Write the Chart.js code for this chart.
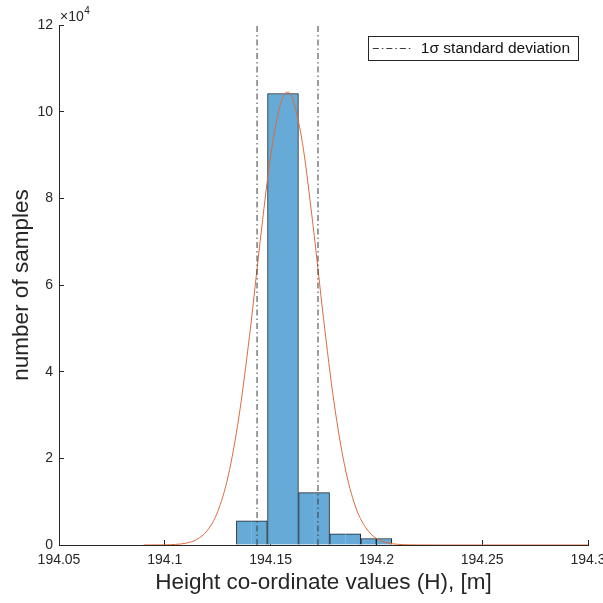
<!DOCTYPE html>
<html lang="en">
<head>
<meta charset="UTF-8">
<title>Height co-ordinate histogram</title>
<script src="https://cdn.jsdelivr.net/npm/chart.js"></script>
<style>
  html, body { margin: 0; padding: 0; background: #fff; }
  #wrap { width: 603px; height: 603px; position: relative; }
</style>
</head>
<body>
<div id="wrap"><canvas id="histChart"></canvas></div>
<script>
// histogram, stored as half-bins (centre in m, count) so the split in the last bin shows
const binCentres = [194.1375, 194.1448, 194.1522, 194.1595, 194.1669, 194.1742, 194.1816, 194.1889, 194.1963, 194.2036];
const binCounts  = [5600, 5600, 104200, 104200, 12100, 12100, 2600, 2600, 1500, 1500];

// fitted normal curve
const curveX = [194.09, 194.10, 194.105, 194.11, 194.115, 194.12, 194.125, 194.13, 194.135, 194.14, 194.145,
                194.15, 194.155, 194.158, 194.16, 194.165, 194.17, 194.175, 194.18, 194.185, 194.19,
                194.195, 194.20, 194.205, 194.21, 194.215, 194.22, 194.23, 194.30];
const curveY = [0, 30, 130, 420, 1250, 3300, 7700, 16000, 29500, 48100, 69800,
                89700, 102300, 104500, 103500, 92900, 74000, 52300, 32800, 18300, 9000,
                4000, 1500, 530, 160, 40, 10, 0, 0];

// +/- 1 sigma markers
const sigmaX = [194.1436, 194.1724];
const sigmaLabel = '1σ standard deviation';

const xTicks = [194.05, 194.1, 194.15, 194.2, 194.25, 194.3];
const yTicks = [0, 2, 4, 6, 8, 10, 12];   // x 10^4
const yScaleExp = 4;

const axisColor = '#262626';
const fontFam = '"Liberation Sans", Arial, Helvetica, sans-serif';

// MATLAB-style boxed legend inside the top right of the plot
const boxLegend = {
  id: 'boxLegend',
  afterDraw(chart) {
    const ctx = chart.ctx;
    const area = chart.chartArea;
    const ds = chart.data.datasets[0];
    ctx.save();
    ctx.font = '15.5px ' + fontFam;
    const tw = ctx.measureText(ds.label).width;
    const h = 24, lineLen = 40;
    const w = 5 + lineLen + 8 + tw + 8;
    const x = area.right - 10 - w;
    const y = area.top + 11;
    ctx.fillStyle = '#fff';
    ctx.fillRect(x, y, w, h);
    ctx.strokeStyle = axisColor;
    ctx.lineWidth = 1;
    ctx.strokeRect(Math.round(x) + 0.5, Math.round(y) + 0.5, Math.round(w), h);
    ctx.beginPath();
    ctx.setLineDash(ds.borderDash);
    ctx.strokeStyle = ds.borderColor;
    ctx.moveTo(x + 5, y + h / 2 + 0.5);
    ctx.lineTo(x + 5 + lineLen, y + h / 2 + 0.5);
    ctx.stroke();
    ctx.setLineDash([]);
    ctx.fillStyle = '#111';
    ctx.textBaseline = 'middle';
    ctx.fillText(ds.label, x + 5 + lineLen + 8, y + h / 2 + 1);
    ctx.restore();
  }
};

// the "x10^4" multiplier above the y axis
const exponentLabel = {
  id: 'exponentLabel',
  afterDraw(chart) {
    const ctx = chart.ctx;
    const area = chart.chartArea;
    ctx.save();
    ctx.fillStyle = axisColor;
    ctx.textBaseline = 'alphabetic';
    ctx.font = '14px ' + fontFam;
    const base = '×10';
    ctx.fillText(base, area.left + 1, area.top - 4);
    const bw = ctx.measureText(base).width;
    ctx.font = '10px ' + fontFam;
    ctx.fillText(String(yScaleExp), area.left + 1 + bw + 0.5, area.top - 11);
    ctx.restore();
  }
};

const sigmaStyle = {
  type: 'line',
  label: sigmaLabel,
  borderColor: '#3a3a3a',
  borderWidth: 1,
  borderDash: [6, 3, 1.5, 3],
  pointRadius: 0,
  fill: false,
  order: 0
};

const yMax = yTicks[yTicks.length - 1] * Math.pow(10, yScaleExp);

new Chart(document.getElementById('histChart'), {
  type: 'bar',
  data: {
    datasets: [
      Object.assign({}, sigmaStyle, { data: [{ x: sigmaX[0], y: 0 }, { x: sigmaX[0], y: yMax }] }),
      Object.assign({}, sigmaStyle, { data: [{ x: sigmaX[1], y: 0 }, { x: sigmaX[1], y: yMax }] }),
      {
        type: 'line',
        label: 'normal fit',
        data: curveX.map((x, i) => ({ x: x, y: curveY[i] })),
        borderColor: '#DF6A3A',
        borderWidth: 1,
        pointRadius: 0,
        cubicInterpolationMode: 'monotone',
        fill: false,
        order: 1
      },
      {
        type: 'bar',
        label: 'samples',
        data: binCentres.map((x, i) => ({ x: x, y: binCounts[i] })),
        backgroundColor: '#66AAD7',
        borderColor: '#1c2329',
        // pairs of half-bins share one outline, the last bin is split in two
        borderWidth: (c) => {
          const i = c.dataIndex;
          if (i >= 8) return 1;
          return i % 2 === 0 ? { left: 1, top: 1, right: 0, bottom: 0 } : { left: 0, top: 1, right: 1, bottom: 0 };
        },
        barPercentage: 1,
        categoryPercentage: 1,
        order: 2
      }
    ]
  },
  options: {
    responsive: true,
    maintainAspectRatio: false,
    animation: false,
    layout: { padding: { top: 25, right: 15, left: 0, bottom: 0 } },
    plugins: {
      legend: { display: false },
      tooltip: { enabled: false }
    },
    scales: {
      x: {
        type: 'linear',
        min: xTicks[0],
        max: xTicks[xTicks.length - 1],
        offset: false,
        afterBuildTicks: (s) => { s.ticks = xTicks.map(v => ({ value: v })); },
        afterFit: (s) => { s.height = 58; s.paddingLeft = 0; s.paddingRight = 0; },
        grid: { display: true, drawOnChartArea: false, drawTicks: true, tickLength: -5, color: axisColor, offset: false },
        border: { display: true, color: axisColor, width: 1 },
        ticks: {
          color: axisColor,
          font: { family: fontFam, size: 14 },
          padding: 12,
          maxRotation: 0,
          autoSkip: false,
          callback: (v) => String(v)
        },
        title: {
          display: true,
          text: 'Height co-ordinate values (H), [m]',
          color: axisColor,
          font: { family: fontFam, size: 22.5 },
          padding: { top: 0, bottom: 7 }
        }
      },
      y: {
        min: 0,
        max: yMax,
        afterBuildTicks: (s) => { s.ticks = yTicks.map(v => ({ value: v * Math.pow(10, yScaleExp) })); },
        afterFit: (s) => { s.width = 59; s.paddingTop = 0; s.paddingBottom = 0; },
        grid: { display: true, drawOnChartArea: false, drawTicks: true, tickLength: -5, color: axisColor },
        border: { display: true, color: axisColor, width: 1 },
        ticks: {
          color: axisColor,
          font: { family: fontFam, size: 14 },
          padding: 11,
          callback: (v) => String(v / Math.pow(10, yScaleExp))
        },
        title: {
          display: true,
          text: 'number of samples',
          color: axisColor,
          font: { family: fontFam, size: 22.5 },
          padding: { top: 8, bottom: 0 }
        }
      }
    }
  },
  plugins: [boxLegend, exponentLabel]
});
</script>
</body>
</html>
